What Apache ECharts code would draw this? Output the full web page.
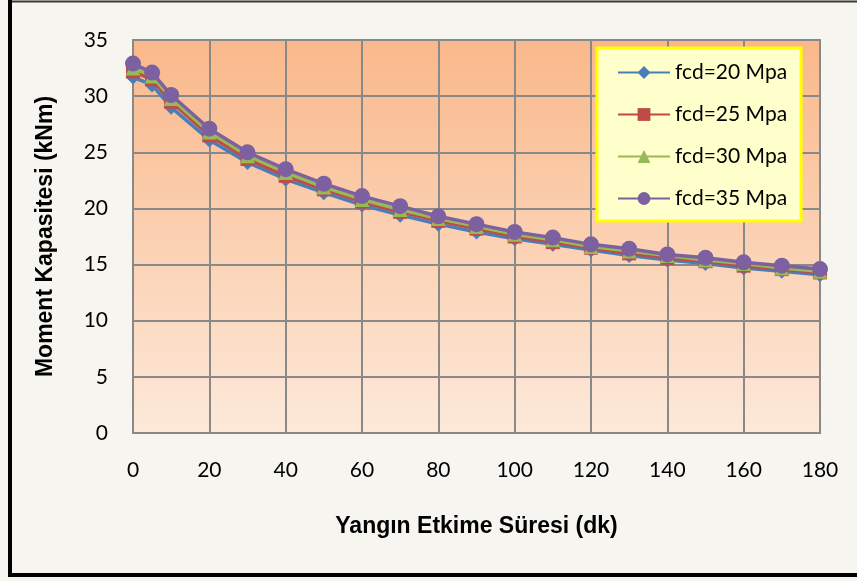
<!DOCTYPE html>
<html>
<head>
<meta charset="utf-8">
<script src="https://cdn.jsdelivr.net/npm/echarts@6/dist/echarts.min.js"></script>
<style>
  html, body { margin: 0; padding: 0; background: #f6f5f0; }
  #chart { width: 857px; height: 581px; }
</style>
</head>
<body>
<div id="chart"></div>
<script>
// Exposure time (minutes)
const times = [0, 5, 10, 20, 30, 40, 50, 60, 70, 80, 90, 100, 110, 120, 130, 140, 150, 160, 170, 180];

// Moment capacity (kNm) per concrete strength
const fcd20 = [31.7, 31.0, 29.0, 26.1, 24.1, 22.6, 21.4, 20.3, 19.4, 18.6, 17.9, 17.3, 16.8, 16.3, 15.8, 15.4, 15.1, 14.7, 14.4, 14.1];
const fcd25 = [32.2, 31.5, 29.5, 26.5, 24.4, 22.9, 21.7, 20.6, 19.7, 18.9, 18.2, 17.5, 17.0, 16.5, 16.0, 15.6, 15.3, 14.9, 14.6, 14.3];
const fcd30 = [32.5, 31.8, 29.8, 26.8, 24.7, 23.2, 21.9, 20.8, 19.9, 19.1, 18.4, 17.7, 17.2, 16.6, 16.2, 15.8, 15.4, 15.1, 14.7, 14.4];
const fcd35 = [32.9, 32.1, 30.1, 27.1, 25.0, 23.5, 22.2, 21.1, 20.2, 19.3, 18.6, 17.9, 17.4, 16.8, 16.4, 15.9, 15.6, 15.2, 14.9, 14.6];

const seriesNames = ['fcd=20 Mpa', 'fcd=25 Mpa', 'fcd=30 Mpa', 'fcd=35 Mpa'];
const seriesValues = [fcd20, fcd25, fcd30, fcd35];
const seriesColors = ['#4a7ebb', '#be4b48', '#98b954', '#7d60a0'];
const seriesSymbols = ['diamond', 'rect', 'triangle', 'circle'];
const symbolSizes = [15, 14, 15, 16];

const chart = echarts.init(document.getElementById('chart'), null, { renderer: 'canvas' });

const tickFont = 'Lato, "Open Sans", sans-serif';
const titleFont = '"Liberation Sans", Arial, sans-serif';

const series = seriesNames.map((name, i) => ({
  name: name,
  type: 'line',
  data: times.map((t, j) => [t, seriesValues[i][j]]),
  symbol: seriesSymbols[i],
  symbolSize: symbolSizes[i],
  showAllSymbol: true,
  lineStyle: { color: seriesColors[i], width: 3.5 },
  itemStyle: { color: seriesColors[i] },
  z: 3 + i
}));

chart.setOption({
  backgroundColor: '#f6f5f0',
  animation: false,
  grid: {
    left: 133, right: 37, top: 40, bottom: 148,
    show: true,
    borderColor: '#e8782a',
    borderWidth: 2,
    backgroundColor: new echarts.graphic.LinearGradient(0, 0, 0, 1, [
      { offset: 0, color: '#f9b88a' },
      { offset: 1, color: '#fde9da' }
    ])
  },
  legend: {
    orient: 'vertical',
    left: 597, top: 48,
    width: 215, height: 174,
    padding: [14, 14, 12, 20],
    itemGap: 21,
    itemWidth: 52,
    itemHeight: 16,
    backgroundColor: '#ffffcc',
    borderColor: '#ffff00',
    borderWidth: 3,
    borderRadius: 0,
    textStyle: { fontFamily: tickFont, fontSize: 21, lineHeight: 21, color: '#000' },
    data: seriesNames
  },
  xAxis: {
    type: 'value',
    min: 0, max: 180, interval: 20,
    name: 'Yangın Etkime Süresi (dk)',
    nameLocation: 'middle',
    nameGap: 82,
    nameTextStyle: { fontFamily: titleFont, fontWeight: 'bold', fontSize: 23, color: '#000' },
    axisLine: { show: true, lineStyle: { color: '#898989', width: 2 } },
    axisTick: { show: false },
    axisLabel: { fontFamily: tickFont, fontSize: 21, color: '#000', margin: 27 },
    splitLine: { show: true, lineStyle: { color: '#898989', width: 2 } }
  },
  yAxis: {
    type: 'value',
    min: 0, max: 35, interval: 5,
    name: 'Moment Kapasitesi (kNm)',
    nameLocation: 'middle',
    nameGap: 76,
    nameRotate: 90,
    nameTextStyle: { fontFamily: titleFont, fontWeight: 'bold', fontSize: 23, color: '#000' },
    axisLine: { show: true, lineStyle: { color: '#898989', width: 2 } },
    axisTick: { show: false },
    axisLabel: { fontFamily: tickFont, fontSize: 21, color: '#000', margin: 25 },
    splitLine: { show: true, lineStyle: { color: '#898989', width: 2 } }
  },
  graphic: [
    // outer chart frame
    { type: 'line', shape: { x1: 10, y1: 1.5, x2: 857, y2: 1.5 }, style: { stroke: '#3a3a3a', lineWidth: 2 }, silent: true },
    { type: 'line', shape: { x1: 10, y1: 0, x2: 10, y2: 577 }, style: { stroke: '#000', lineWidth: 4 }, silent: true },
    { type: 'line', shape: { x1: 8, y1: 575, x2: 857, y2: 575 }, style: { stroke: '#000', lineWidth: 4 }, silent: true }
  ],
  series: series
});
</script>
</body>
</html>
